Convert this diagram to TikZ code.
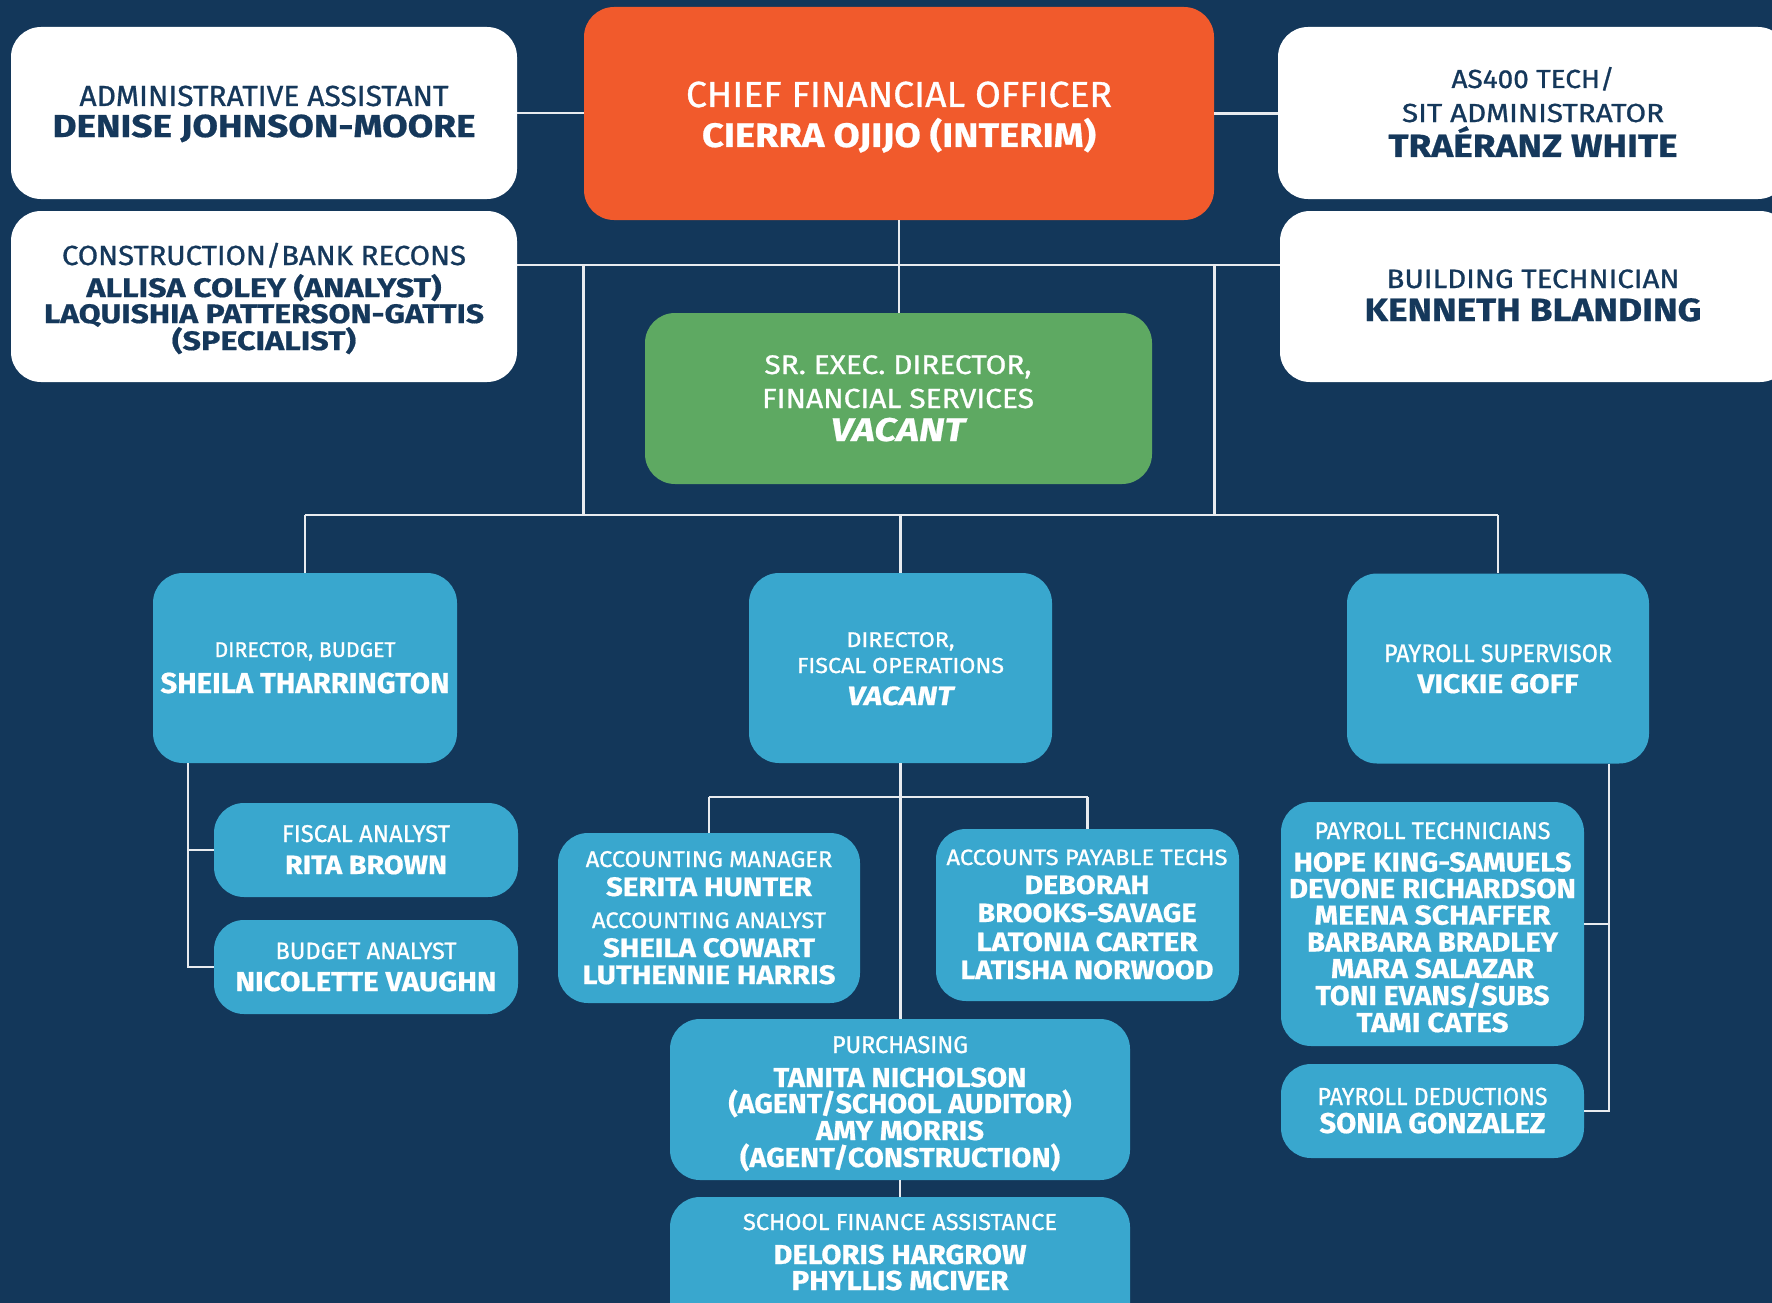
\documentclass[tikz,border=0pt]{standalone}
\usepackage{fontspec}
\setmainfont{Fira Sans}
\usepackage{graphicx}
\definecolor{bg}{HTML}{13375A}
\definecolor{org}{HTML}{F15A2C}
\definecolor{grn}{HTML}{5EA962}
\definecolor{lblue}{HTML}{39A7CE}
\definecolor{navytxt}{HTML}{15385B}
\definecolor{lineclr}{HTML}{E8EBEF}
\newcommand\tl[3]{\resizebox{#1pt}{#2pt}{\mdseries\upshape\addfontfeatures{FakeBold=0.9}\raisebox{0pt}[\fontcharht\font`X][0pt]{#3}}}
\newcommand\nm[3]{\resizebox{#1pt}{#2pt}{\bfseries\upshape\addfontfeatures{FakeBold=0.6}\raisebox{0pt}[\fontcharht\font`X][0pt]{#3}}}
\newcommand\vc[3]{\resizebox{#1pt}{#2pt}{\bfseries\itshape\addfontfeatures{FakeBold=0.6}\raisebox{0pt}[\fontcharht\font`X][0pt]{#3}}}
\newcommand\pl[5]{\node[#1] (#2) at (#3,#4) {#5};}
\begin{document}
\begin{tikzpicture}[x=1pt,y=-1pt,
  boxbase/.style={rounded corners=30pt, inner sep=0pt, draw=none},
  wbox/.style={boxbase, fill=white},
  obox/.style={boxbase, fill=org},
  gbox/.style={boxbase, fill=grn},
  bbox/.style={boxbase, fill=lblue},
  wt/.style={inner sep=0pt, anchor=base, text=white, font=\fontsize{20}{24}\selectfont},
  dt/.style={wt, text=navytxt},
  conn/.style={draw=lineclr, line width=2.8pt}]
\clip (0,0) rectangle (1772,1303);
\fill[bg] (0,0) rectangle (1772,1303);
% helper coordinates
\coordinate (y265) at (0,265);
\coordinate (y515) at (0,515);
\coordinate (y797) at (0,797);
\coordinate (x188) at (188,0);
\coordinate (x1609) at (1609,0);
% boxes
\node[wbox, minimum width=506pt, minimum height=172pt] (admin) at (264,113) {};
\node[wbox, minimum width=506pt, minimum height=171pt] (cons) at (264,296.5) {};
\node[obox, minimum width=630pt, minimum height=213pt] (cfo) at (899,113.5) {};
\node[wbox, minimum width=510pt, minimum height=172pt] (as400) at (1533,113) {};
\node[wbox, minimum width=510pt, minimum height=171pt] (bldg) at (1535,296.5) {};
\node[gbox, minimum width=507pt, minimum height=171pt] (green) at (898.5,398.5) {};
\node[bbox, minimum width=304pt, minimum height=190pt] (dbud) at (305,668) {};
\node[bbox, minimum width=303pt, minimum height=190pt] (dfis) at (900.5,668) {};
\node[bbox, minimum width=302pt, minimum height=190pt] (dpay) at (1498,668.5) {};
\node[bbox, minimum width=304pt, minimum height=94pt] (fisc) at (366,850) {};
\node[bbox, minimum width=304pt, minimum height=94pt] (bana) at (366,967) {};
\node[bbox, minimum width=302pt, minimum height=170pt] (acct) at (709,918) {};
\node[bbox, minimum width=303pt, minimum height=172pt] (ap) at (1087.5,915) {};
\node[bbox, minimum width=460pt, minimum height=161pt] (purch) at (900,1099.5) {};
\node[bbox, minimum width=460pt, minimum height=153pt] (sfa) at (900,1273.5) {};
\node[bbox, minimum width=303pt, minimum height=244pt] (ptech) at (1432.5,924) {};
\node[bbox, minimum width=303pt, minimum height=94pt] (pded) at (1432.5,1111) {};
% texts (one node per line, anchored at the baseline)
\pl{dt}{admin1}{264}{106}{\tl{369}{20}{ADMINISTRATIVE ASSISTANT}}
\pl{dt}{admin2}{264}{137}{\nm{423}{22}{DENISE JOHNSON-MOORE}}
\pl{dt}{cons1}{264}{265}{\tl{404}{19}{CONSTRUCTION/BANK RECONS}}
\pl{dt}{cons2}{264}{297}{\nm{355}{18.5}{ALLISA COLEY (ANALYST)}}
\pl{dt}{cons3}{264}{323}{\nm{440}{18.5}{LAQUISHIA PATTERSON-GATTIS}}
\pl{dt}{cons4}{264}{350}{\nm{184}{18.5}{(SPECIALIST)}}
\pl{wt}{cfo1}{899}{107}{\tl{426}{25}{CHIEF FINANCIAL OFFICER}}
\pl{wt}{cfo2}{899}{147}{\nm{394}{23.5}{CIERRA OJIJO (INTERIM)}}
\pl{dt}{as1}{1533}{88}{\tl{163}{18}{AS400 TECH/}}
\pl{dt}{as2}{1533}{122}{\tl{262}{18}{SIT ADMINISTRATOR}}
\pl{dt}{as3}{1533}{157}{\nm{289}{22.3}{TRAÉRANZ WHITE}}
\pl{dt}{bl1}{1533}{288}{\tl{293}{18.3}{BUILDING TECHNICIAN}}
\pl{dt}{bl2}{1533}{321}{\nm{337}{22.3}{KENNETH BLANDING}}
\pl{wt}{gr1}{898}{374}{\tl{267}{18.5}{SR. EXEC. DIRECTOR,}}
\pl{wt}{gr2}{898}{408}{\tl{272}{19}{FINANCIAL SERVICES}}
\pl{wt}{gr3}{898}{441}{\vc{134}{22.7}{VACANT}}
\pl{wt}{db1}{305}{657}{\tl{181}{14.7}{DIRECTOR, BUDGET}}
\pl{wt}{db2}{305}{693}{\nm{289}{20}{SHEILA THARRINGTON}}
\pl{wt}{df1}{900.5}{647}{\tl{108}{14.7}{DIRECTOR,}}
\pl{wt}{df2}{900.5}{673}{\tl{207}{15}{FISCAL OPERATIONS}}
\pl{wt}{df3}{900.5}{705}{\vc{106}{18.3}{VACANT}}
\pl{wt}{dp1}{1498}{662}{\tl{228}{17.4}{PAYROLL SUPERVISOR}}
\pl{wt}{dp2}{1498}{693}{\nm{161}{18.6}{VICKIE GOFF}}
\pl{wt}{fi1}{366}{842}{\tl{168}{16.7}{FISCAL ANALYST}}
\pl{wt}{fi2}{366}{874}{\nm{162}{18.3}{RITA BROWN}}
\pl{wt}{ba1}{366}{959}{\tl{181}{16.3}{BUDGET ANALYST}}
\pl{wt}{ba2}{366}{991}{\nm{261}{19}{NICOLETTE VAUGHN}}
\pl{wt}{ac1}{709}{867}{\tl{246.5}{15.7}{ACCOUNTING MANAGER}}
\pl{wt}{ac2}{709}{896}{\nm{206}{18.5}{SERITA HUNTER}}
\pl{wt}{ac3}{709}{928}{\tl{234}{15.5}{ACCOUNTING ANALYST}}
\pl{wt}{ac4}{709}{957}{\nm{212}{18.5}{SHEILA COWART}}
\pl{wt}{ac5}{709}{984}{\nm{253}{18.5}{LUTHENNIE HARRIS}}
\pl{wt}{ap1}{1087}{865}{\tl{281}{15.3}{ACCOUNTS PAYABLE TECHS}}
\pl{wt}{ap2}{1087}{894}{\nm{125}{18.3}{DEBORAH}}
\pl{wt}{ap3}{1087}{922}{\nm{219}{18.3}{BROOKS-SAVAGE}}
\pl{wt}{ap4}{1087}{951}{\nm{221}{18.3}{LATONIA CARTER}}
\pl{wt}{ap5}{1087}{979}{\nm{253}{18.3}{LATISHA NORWOOD}}
\pl{wt}{pu1}{900}{1053}{\tl{136}{16.7}{PURCHASING}}
\pl{wt}{pu2}{900}{1087}{\nm{253}{19}{TANITA NICHOLSON}}
\pl{wt}{pu3}{900}{1113}{\nm{343}{19}{(AGENT/SCHOOL AUDITOR)}}
\pl{wt}{pu4}{900}{1140}{\nm{168}{19}{AMY MORRIS}}
\pl{wt}{pu5}{900}{1167}{\nm{320}{19}{(AGENT/CONSTRUCTION)}}
\pl{wt}{sf1}{900}{1230}{\tl{314}{16}{SCHOOL FINANCE ASSISTANCE}}
\pl{wt}{sf2}{900}{1264}{\nm{253}{19}{DELORIS HARGROW}}
\pl{wt}{sf3}{900}{1290}{\nm{217}{19}{PHYLLIS MCIVER}}
\pl{wt}{pt1}{1432.5}{839}{\tl{236}{16.6}{PAYROLL TECHNICIANS}}
\pl{wt}{pt2}{1432.5}{871.6}{\nm{278}{19}{HOPE KING-SAMUELS}}
\pl{wt}{pt3}{1432.5}{898}{\nm{287}{19}{DEVONE RICHARDSON}}
\pl{wt}{pt4}{1432.5}{924.6}{\nm{236}{19}{MEENA SCHAFFER}}
\pl{wt}{pt5}{1432.5}{951.5}{\nm{251}{19}{BARBARA BRADLEY}}
\pl{wt}{pt6}{1432.5}{978}{\nm{203}{19}{MARA SALAZAR}}
\pl{wt}{pt7}{1432.5}{1005}{\nm{234}{19}{TONI EVANS/SUBS}}
\pl{wt}{pt8}{1432.5}{1032}{\nm{152}{19}{TAMI CATES}}
\pl{wt}{pd1}{1432.5}{1105}{\tl{230}{17}{PAYROLL DEDUCTIONS}}
\pl{wt}{pd2}{1432.5}{1133}{\nm{226}{19.8}{SONIA GONZALEZ}}
% connectors
\draw[conn] (admin.east) -- (admin.east -| cfo.west);
\draw[conn] (cfo.east) -- (cfo.east -| as400.west);
\draw[conn] (cfo.south) -- (cfo.south |- green.north);
\draw[conn] (cons.east |- y265) -- (bldg.west |- y265);
\draw[conn] (cfo.west |- y265) -- (cfo.west |- y515);
\draw[conn] (cfo.east |- y265) -- (cfo.east |- y515);
\draw[conn] (dbud.north |- y515) -- (dpay.north |- y515);
\draw[conn] (dbud.north |- y515) -- (dbud.north);
\draw[conn] (dfis.north |- y515) -- (dfis.north);
\draw[conn] (dpay.north |- y515) -- (dpay.north);
\draw[conn] (x188 |- dbud.south) -- (x188 |- bana.west) -- (bana.west);
\draw[conn] (x188 |- fisc.west) -- (fisc.west);
\draw[conn] (dfis.south) -- (dfis.south |- purch.north);
\draw[conn] (purch.south) -- (sfa.north);
\draw[conn] (acct.north |- y797) -- (ap.north |- y797);
\draw[conn] (acct.north |- y797) -- (acct.north);
\draw[conn] (ap.north |- y797) -- (ap.north);
\draw[conn] (x1609 |- dpay.south) -- (x1609 |- pded.east) -- (pded.east);
\draw[conn] (x1609 |- ptech.east) -- (ptech.east);
\end{tikzpicture}
\end{document}
